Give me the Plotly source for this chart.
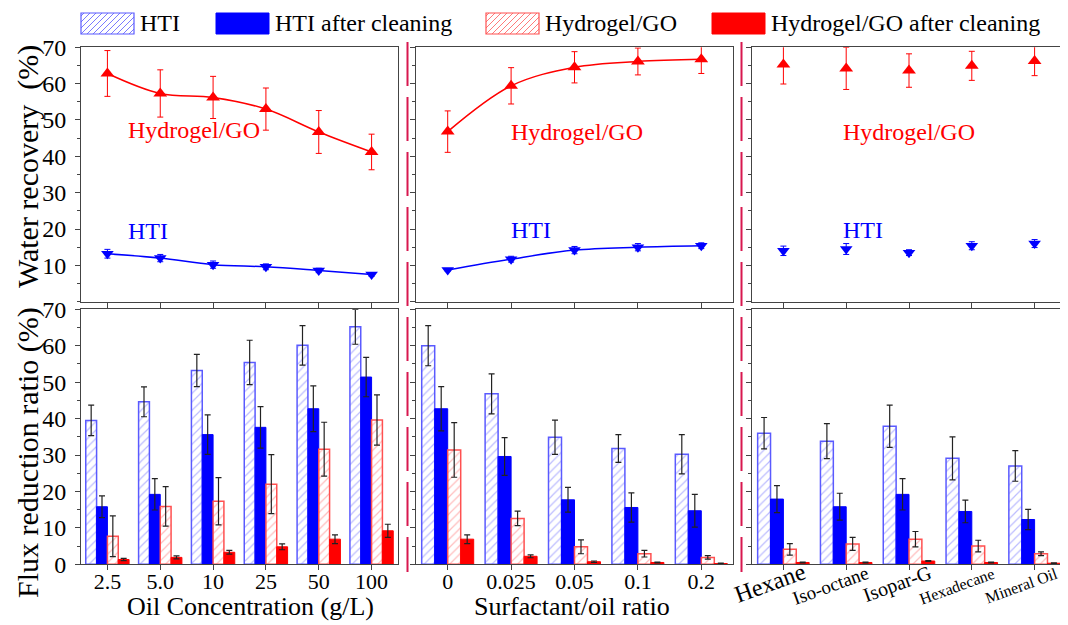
import plotly.graph_objects as go

# page has an 8px body margin: the figure is drawn from screen (8, 8)
OFF = 8
W, H = 1068 - OFF, 625 - OFF

# ---------------- data ----------------
oil_conc = ["2.5", "5.0", "10", "25", "50", "100"]
ratio = ["0", "0.025", "0.05", "0.1", "0.2"]
oils = ["Hexane", "Iso-octane", "Isopar-G", "Hexadecane", "Mineral Oil"]
oil_label_sizes = [24, 19, 20, 16, 16]

# Water recovery (%)
wr_go_conc = [62.8, 57.3, 56.2, 53.0, 46.7, 41.2]
wr_go_conc_err = [6.3, 6.5, 5.8, 5.8, 5.9, 4.9]
wr_hti_conc = [13.2, 12.0, 10.2, 9.6, 8.6, 7.5]
wr_hti_conc_err = [1.2, 1.0, 1.0, 0.8, 0.6, 0.5]

wr_go_ratio = [46.8, 59.4, 64.5, 66.1, 66.7]
wr_go_ratio_err = [5.7, 5.0, 4.3, 3.7, 3.9]
wr_hti_ratio = [8.7, 11.7, 14.2, 15.0, 15.4]
wr_hti_ratio_err = [0.3, 0.8, 1.0, 1.0, 0.8]

wr_go_oil = [65.3, 64.2, 63.6, 64.9, 66.2]
wr_go_oil_err = [5.4, 5.8, 4.6, 4.0, 4.0]
wr_hti_oil = [14.0, 14.5, 13.5, 15.4, 16.0]
wr_hti_oil_err = [1.3, 1.5, 0.8, 1.1, 1.1]

# Flux reduction ratio (%)
frr_hti_conc = [39.5, 44.6, 53.2, 55.4, 60.1, 65.2]
frr_hti_conc_err = [4.2, 4.1, 4.4, 6.1, 5.4, 4.8]
frr_htic_conc = [15.8, 19.2, 35.6, 37.6, 42.7, 51.4]
frr_htic_conc_err = [3.0, 4.3, 5.4, 5.7, 6.3, 5.4]
frr_go_conc = [7.7, 15.9, 17.3, 22.0, 31.6, 39.6]
frr_go_conc_err = [5.6, 5.4, 6.5, 8.1, 7.4, 6.9]
frr_goc_conc = [1.3, 1.9, 3.3, 4.8, 6.9, 9.2]
frr_goc_conc_err = [0.3, 0.4, 0.5, 0.8, 1.2, 1.8]

frr_hti_ratio = [60.0, 46.8, 34.9, 31.8, 30.2]
frr_hti_ratio_err = [5.5, 5.5, 4.7, 3.8, 5.4]
frr_htic_ratio = [42.7, 29.6, 17.7, 15.6, 14.7]
frr_htic_ratio_err = [6.1, 5.2, 3.4, 4.0, 4.5]
frr_go_ratio = [31.4, 12.6, 4.8, 2.9, 1.9]
frr_go_ratio_err = [7.5, 2.0, 1.9, 0.9, 0.5]
frr_goc_ratio = [6.9, 2.2, 0.7, 0.5, 0.2]
frr_goc_ratio_err = [1.2, 0.4, 0.2, 0.1, 0.1]

frr_hti_oil = [36.0, 33.8, 37.9, 29.1, 27.0]
frr_hti_oil_err = [4.3, 4.8, 5.8, 5.9, 4.2]
frr_htic_oil = [17.9, 15.8, 19.2, 14.5, 12.3]
frr_htic_oil_err = [3.7, 3.7, 4.3, 3.1, 2.8]
frr_go_oil = [4.1, 5.6, 6.9, 5.0, 2.9]
frr_go_oil_err = [1.6, 1.8, 2.1, 1.6, 0.5]
frr_goc_oil = [0.5, 0.5, 0.9, 0.5, 0.3]
frr_goc_oil_err = [0.1, 0.1, 0.1, 0.1, 0.1]

names = ["HTI", "HTI after cleaning", "Hydrogel/GO", "Hydrogel/GO after cleaning"]

# ---------------- style ----------------
FONT = "Liberation Serif, Times New Roman, serif"
BLUE = "#0000ff"
RED = "#ff0000"
AX = "#444444"
HATCH_BLUE_LINE, HATCH_BLUE_FG = "#5a5aff", "#7a7aff"
HATCH_RED_LINE, HATCH_RED_FG = "#ff5050", "#ff7a7a"

fig = go.Figure()

def px_x(p):
    return (p - OFF) / W

def px_y(p):
    return 1 - (p - OFF) / H

xdoms = [(px_x(81), px_x(398)), (px_x(416), px_x(733)), (px_x(752), px_x(1066))]
ydom_top = (px_y(301.7), px_y(47.3))
ydom_bot = (px_y(564.3), px_y(309.3))

cats = [oil_conc, ratio, oils]

# ---- top row: water recovery ----
top_sets = [
    (wr_go_conc, wr_go_conc_err, wr_hti_conc, wr_hti_conc_err, True),
    (wr_go_ratio, wr_go_ratio_err, wr_hti_ratio, wr_hti_ratio_err, True),
    (wr_go_oil, wr_go_oil_err, wr_hti_oil, wr_hti_oil_err, False),
]
for i, (go_v, go_e, hti_v, hti_e, line) in enumerate(top_sets):
    xa = "x" if i == 0 else f"x{i+1}"
    ya = "y" if i == 0 else f"y{i+1}"
    mode = "lines+markers" if line else "markers"
    fig.add_trace(go.Scatter(
        x=cats[i], y=go_v, mode=mode, xaxis=xa, yaxis=ya, showlegend=False,
        line=dict(color=RED, width=1.5, shape="spline"),
        marker=dict(symbol="triangle-up", size=12, color=RED),
        error_y=dict(type="data", array=go_e, color=RED, thickness=1, width=3),
        cliponaxis=True))
    fig.add_trace(go.Scatter(
        x=cats[i], y=hti_v, mode=mode, xaxis=xa, yaxis=ya, showlegend=False,
        line=dict(color=BLUE, width=1.5, shape="spline"),
        marker=dict(symbol="triangle-down", size=11, color=BLUE),
        error_y=dict(type="data", array=hti_e, color=BLUE, thickness=1, width=3),
        cliponaxis=True))

# ---- bottom row: flux reduction ratio ----
bot_sets = [
    (frr_hti_conc, frr_hti_conc_err, frr_htic_conc, frr_htic_conc_err,
     frr_go_conc, frr_go_conc_err, frr_goc_conc, frr_goc_conc_err),
    (frr_hti_ratio, frr_hti_ratio_err, frr_htic_ratio, frr_htic_ratio_err,
     frr_go_ratio, frr_go_ratio_err, frr_goc_ratio, frr_goc_ratio_err),
    (frr_hti_oil, frr_hti_oil_err, frr_htic_oil, frr_htic_oil_err,
     frr_go_oil, frr_go_oil_err, frr_goc_oil, frr_goc_oil_err),
]
ERR = dict(color="#222222", thickness=1.2, width=3)

def bar_marker(k):
    if k == 0:
        return dict(color="white", line=dict(color=HATCH_BLUE_LINE, width=1.5),
                    pattern=dict(shape="/", fgcolor=HATCH_BLUE_FG, bgcolor="white",
                                 size=6, solidity=0.2))
    if k == 1:
        return dict(color=BLUE, line=dict(color=BLUE, width=1))
    if k == 2:
        return dict(color="white", line=dict(color=HATCH_RED_LINE, width=1.5),
                    pattern=dict(shape="/", fgcolor=HATCH_RED_FG, bgcolor="white",
                                 size=6, solidity=0.2))
    return dict(color=RED, line=dict(color=RED, width=1))

for i, s in enumerate(bot_sets):
    xa = f"x{i+4}"
    ya = f"y{i+4}"
    vals = [(s[0], s[1]), (s[2], s[3]), (s[4], s[5]), (s[6], s[7])]
    for k, (v, e) in enumerate(vals):
        fig.add_trace(go.Bar(
            x=cats[i], y=v, name=names[k], xaxis=xa, yaxis=ya,
            marker=bar_marker(k), showlegend=False,
            error_y=dict(type="data", array=e, **ERR)))

# ---- axes ----
layout = {}
for r in range(2):
    for c in range(3):
        n = r * 3 + c + 1
        sfx = "" if n == 1 else str(n)
        ncat = len(cats[c])
        layout["xaxis" + sfx] = dict(
            domain=xdoms[c], anchor="y" + sfx, type="category",
            range=[-0.5, ncat - 0.5], showline=True, linecolor=AX, linewidth=1,
            mirror=True, ticks="outside", ticklen=5, tickcolor=AX,
            showgrid=False, zeroline=False,
            showticklabels=(r == 1), ticklabelstandoff=-8,
            tickfont=dict(family=FONT, size=22, color="black"),
        )
        layout["yaxis" + sfx] = dict(
            domain=ydom_top if r == 0 else ydom_bot, anchor="x" + sfx,
            range=[0, 70], tickvals=[0, 10, 20, 30, 40, 50, 60, 70],
            showline=True, linecolor=AX, linewidth=1, mirror=True,
            ticks="outside", ticklen=5, tickcolor=AX,
            minor=dict(dtick=5, ticklen=3, ticks="outside", tickcolor=AX),
            showgrid=False, zeroline=False,
            showticklabels=(c == 0), ticklabelstandoff=4,
            tickfont=dict(family=FONT, size=24, color="black"),
        )
        if r == 0 and c == 0:
            layout["yaxis" + sfx]["tickvals"] = [10, 20, 30, 40, 50, 60, 70]
        # minor x ticks at category boundaries (overlay linear axis)
        m = n + 6
        layout[f"xaxis{m}"] = dict(
            domain=xdoms[c], anchor="y" + sfx, overlaying="x" + sfx,
            range=[-0.5, ncat - 0.5], tick0=0.5, dtick=1, ticks="outside",
            ticklen=3, tickcolor=AX, showticklabels=False, showline=False,
            showgrid=False, zeroline=False, side="bottom",
        )

layout["xaxis6"]["ticktext"] = [
    f'<span style="font-size:{s}px">{t}</span>' for t, s in zip(oils, oil_label_sizes)]
layout["xaxis6"]["tickvals"] = oils
layout["xaxis6"]["tickangle"] = -20
layout["xaxis6"]["ticklabelstandoff"] = -18
layout["xaxis6"]["ticklabelshift"] = 20

fig.update_layout(**layout)

# ---- annotations ----
ann = []
def tann(text, xref, x, yref, y, color, size, **kw):
    d = dict(text=text, xref=xref, x=x, yref=yref, y=y, showarrow=False,
             xanchor="center", yanchor="middle",
             font=dict(family=FONT, size=size, color=color))
    d.update(kw)
    ann.append(d)

tann("Hydrogel/GO", "x domain", 0.356, "y domain", 0.675, RED, 24)
tann("Hydrogel/GO", "x2 domain", 0.509, "y2 domain", 0.667, RED, 24)
tann("Hydrogel/GO", "x3 domain", 0.500, "y3 domain", 0.667, RED, 24)
tann("HTI", "x domain", 0.21, "y domain", 0.278, BLUE, 24)
tann("HTI", "x2 domain", 0.364, "y2 domain", 0.282, BLUE, 24)
tann("HTI", "x3 domain", 0.352, "y3 domain", 0.282, BLUE, 24)

tann("Water recovery  (%)", "paper", px_x(28), "paper", px_y(167), "black", 30, textangle=-90)
tann("Flux reduction ratio (%)", "paper", px_x(28), "paper", px_y(453), "black", 30, textangle=-90)
tann("Oil Concentration (g/L)", "paper", px_x(250), "paper", px_y(606), "black", 26)
tann("Surfactant/oil ratio", "paper", px_x(572), "paper", px_y(606), "black", 26)

shapes = []
for xp in [407.5, 741.5]:
    shapes.append(dict(type="line", xref="paper", yref="paper",
                       x0=px_x(xp), x1=px_x(xp), y0=px_y(42), y1=px_y(572),
                       line=dict(color="#d8174f", width=2, dash="44px,11px")))

# ---- legend (drawn: large swatches like the original) ----
leg_x = [81, 216, 486, 712]          # swatch left edges (screen px)
SW, SY0, SY1 = 53, 13, 34
leg_style = [("hatch", HATCH_BLUE_LINE, HATCH_BLUE_FG), ("solid", BLUE, BLUE),
             ("hatch", HATCH_RED_LINE, HATCH_RED_FG), ("solid", RED, RED)]
for name, x0, (kind, lc, fc) in zip(names, leg_x, leg_style):
    x1 = x0 + SW
    if kind == "hatch":
        step = 6
        k = x0 + SY0 + 3
        while k < x1 + SY1:
            xa0 = max(x0, k - SY1)
            xa1 = min(x1, k - SY0)
            if xa1 > xa0:
                shapes.append(dict(type="line", xref="paper", yref="paper",
                                   x0=px_x(xa0), y0=px_y(k - xa0),
                                   x1=px_x(xa1), y1=px_y(k - xa1),
                                   line=dict(color=fc, width=1)))
            k += step
        shapes.append(dict(type="rect", xref="paper", yref="paper",
                           x0=px_x(x0), x1=px_x(x1), y0=px_y(SY1), y1=px_y(SY0),
                           line=dict(color=lc, width=1.2), fillcolor="rgba(0,0,0,0)"))
    else:
        shapes.append(dict(type="rect", xref="paper", yref="paper",
                           x0=px_x(x0), x1=px_x(x1), y0=px_y(SY1), y1=px_y(SY0),
                           line=dict(color=lc, width=1), fillcolor=fc))
    ann.append(dict(text=name, xref="paper", yref="paper", x=px_x(x1 + 4),
                    y=px_y(23.5), xanchor="left", yanchor="middle", showarrow=False,
                    font=dict(family=FONT, size=24, color="black")))

fig.update_layout(
    width=W, height=H, margin=dict(l=0, r=0, t=0, b=0, autoexpand=False),
    paper_bgcolor="white", plot_bgcolor="white",
    barmode="group", bargap=0.18, bargroupgap=0,
    font=dict(family=FONT, color="black"),
    annotations=ann, shapes=shapes, showlegend=False,
)

fig.write_html("out.html")
